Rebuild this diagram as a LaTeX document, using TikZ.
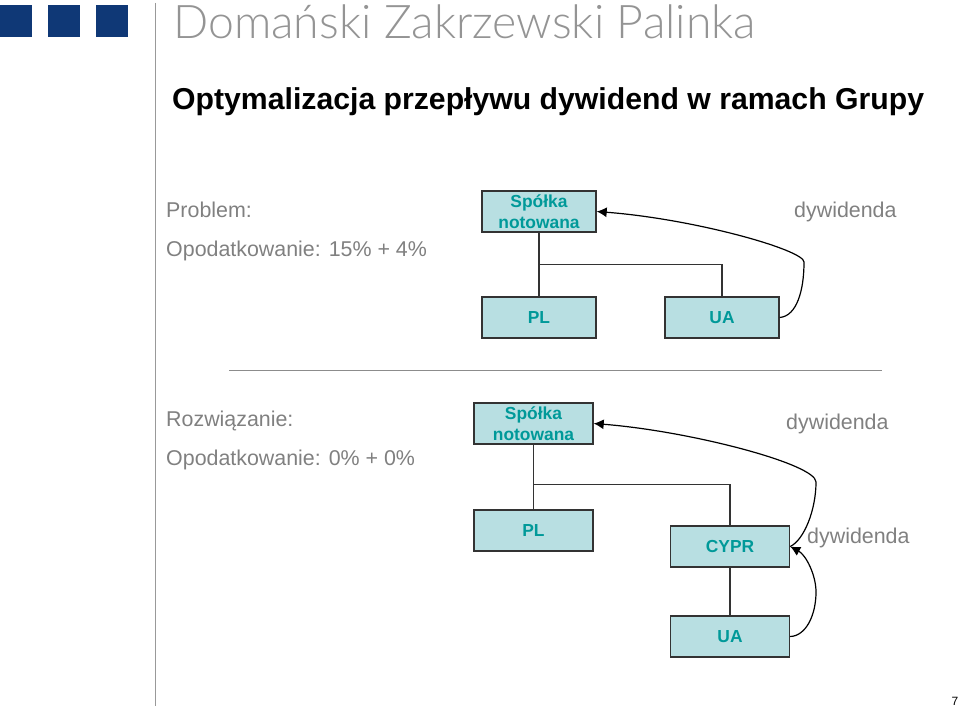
\documentclass[tikz,border=0pt]{standalone}
\usepackage{fontspec}
\usetikzlibrary{arrows.meta}
\setmainfont{Liberation Sans}
\newfontfamily\logofont{Lato Light}
\definecolor{boxfill}{RGB}{184,223,226}
\definecolor{boxtext}{RGB}{0,153,153}
\definecolor{logoblue}{RGB}{15,56,118}
\definecolor{greytext}{RGB}{128,128,128}
\tikzset{
  firm/.style={draw=black!80, fill=boxfill, line width=1.4pt, text=boxtext, inner sep=0pt, align=center,
    font=\bfseries\fontsize{17.4}{21}\selectfont},
  firmup/.style={firm, minimum width=114pt, minimum height=41pt},
  firmlow/.style={firm, minimum width=119pt, minimum height=41pt},
  note/.style={text=greytext, inner sep=0pt, anchor=west, font=\fontsize{21.4}{25}\selectfont},
  square/.style={fill=logoblue, inner sep=0pt, minimum width=32pt, minimum height=32pt},
  flow/.style={black, line width=1.2pt, -{Latex[length=10pt,width=10pt]}},
  tie/.style={black!80, line width=1.4pt}
}
\begin{document}
\begin{tikzpicture}[x=1pt, y=-1pt]
\useasboundingbox (0, 0) rectangle (960, 706);

\node[square] (logoa) at (16, 21) {};
\node[square] (logob) at (64, 21) {};
\node[square] (logoc) at (112, 21) {};
\node[anchor=west, inner sep=0pt, text=black!42, font=\logofont\fontsize{46.4}{50}\selectfont] (logo) at (173, 22) {Domański Zakrzewski Palinka};
\node[anchor=west, inner sep=0pt, font=\bfseries\fontsize{30.2}{34}\selectfont] (title) at (172, 102) {Optymalizacja przepływu dywidend w ramach Grupy};

\coordinate (railtop) at (155.5, 3);
\coordinate (railend) at (155.5, 706);
\draw[black!40, line width=1.4pt] (railtop) -- (railend);

\node[note] (problem) at (166, 210) {Problem:};
\node[note] (taxup) at (166, 251) {Opodatkowanie: 15\% + 4\%};
\node[note] (divup) at (794, 212) {dywidenda};

\node[firmup] (listedup) at (539, 211.5) {Spółka\\notowana};
\node[firmup] (plup) at (539, 317.5) {PL};
\node[firmup] (uaup) at (722, 317.5) {UA};

\coordinate (joinup) at (539, 264.5);
\draw[tie] (listedup) -- (plup);
\draw[tie] (joinup) -| (uaup);
\draw[flow] (uaup.east) .. controls (797, 316) and (804, 290) .. (804, 262)
  .. controls (804, 250) and (695, 219) .. (listedup.east);

\coordinate (ruleleft) at (229, 370);
\coordinate (ruleright) at (882, 370);
\draw[black!45, line width=1pt] (ruleleft) -- (ruleright);

\node[note] (solution) at (166, 421) {Rozwiązanie:};
\node[note] (taxlow) at (166, 460) {Opodatkowanie: 0\% + 0\%};
\node[note] (divlow) at (786, 424) {dywidenda};
\node[note] (divcy) at (807, 538) {dywidenda};

\node[firmlow] (listedlow) at (533.5, 423.5) {Spółka\\notowana};
\node[firmlow] (pllow) at (533.5, 530.5) {PL};
\node[firmlow] (cypr) at (730, 546.5) {CYPR};
\node[firmlow] (ualow) at (730, 636.5) {UA};

\coordinate (joinlow) at (533.5, 484.5);
\draw[tie] (listedlow) -- (pllow);
\draw[tie] (joinlow) -| (cypr);
\draw[tie] (cypr) -- (ualow);
\draw[flow] (cypr.east) .. controls (804, 540) and (816, 510) .. (816, 482)
  .. controls (816, 464) and (690, 431) .. (listedlow.east);
\draw[flow] (ualow.east) .. controls (806, 636) and (816, 615) .. (816, 592)
  .. controls (816, 575) and (806, 555) .. (cypr.east);

\node[inner sep=0pt, font=\fontsize{12}{14}\selectfont] (pageno) at (955, 701) {7};
\end{tikzpicture}
\end{document}
